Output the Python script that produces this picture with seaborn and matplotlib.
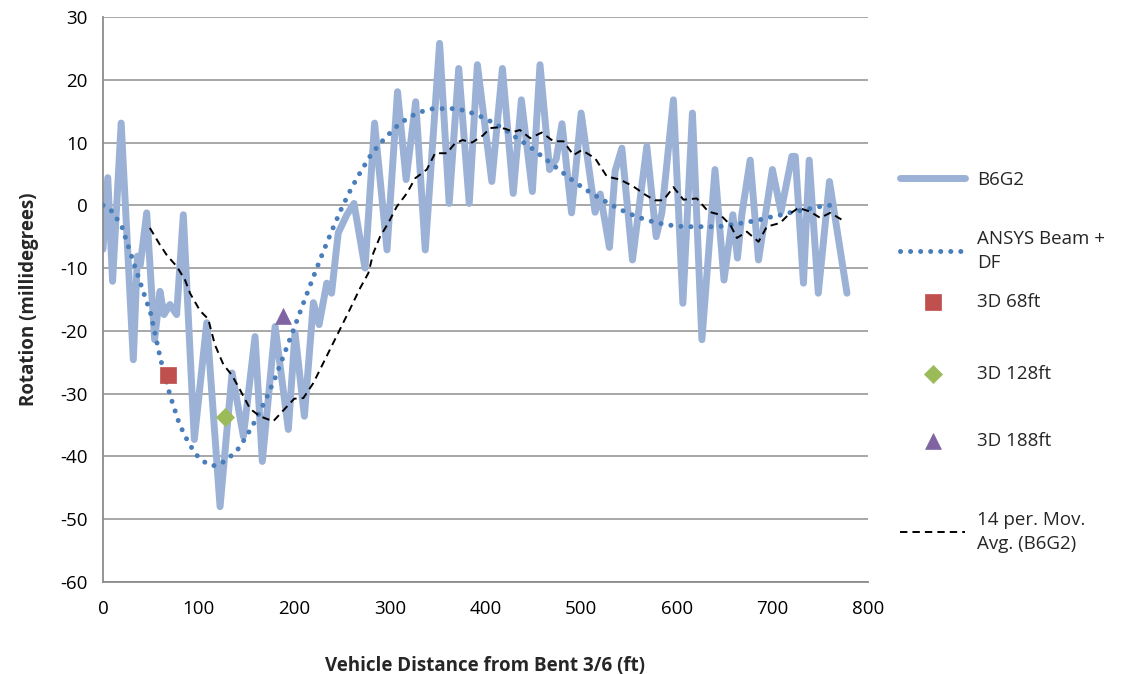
import matplotlib
matplotlib.use("Agg")
import matplotlib.pyplot as plt
import seaborn as sns
import numpy as np
import pandas as pd

# ---------------- data ----------------
b6g2_x = [0, 5, 10, 19, 31.7, 36, 39, 45.7, 54, 59.6, 63.8, 70, 77, 84, 95.5,
          108.5, 122.4, 135, 146.8, 159, 166.6, 180, 193.8, 200.8, 210.6, 220,
          226, 234, 239, 246, 255, 262.5, 274, 284, 297, 308, 317, 327, 337,
          352, 362, 372, 383, 391.5, 406.6, 417.7, 429, 437.5, 449, 457, 467,
          474, 480, 490, 500, 514.6, 520, 529.6, 535.6, 542.6, 553.7, 568.7,
          578.5, 584.4, 596.5, 606.4, 616.4, 626.3, 640, 649.4, 658.7, 663.5,
          668, 676.8, 685.5, 700, 709, 720.4, 724, 732.5, 738.5, 748, 759.7, 778]
b6g2_y = [-7, 4.4, -12.1, 13.1, -24.6, -8.1, -9.5, -1.2, -21.4, -13.7, -17.4,
          -15.8, -17.4, -1.5, -37.3, -18.7, -48, -26.7, -36.8, -20.9, -40.8,
          -19.3, -35.7, -20.3, -33.6, -15.5, -19, -12.4, -14, -4.4, -1.5, 0.3,
          -10, 13.1, -7.1, 18.1, 4.1, 16.5, -7.1, 25.8, 0.3, 21.8, 0.3, 22.4,
          3.8, 21.8, 1.9, 16.8, 2.2, 22.4, 5.7, 7.4, 13, -1.2, 14.7, -1.1, 1.8,
          -6.7, 5.5, 9.1, -8.7, 9.4, -5, -1.2, 16.8, -15.6, 14.7, -21.4, 5.7,
          -11.9, -1.5, -8.4, -1.5, 7.2, -8.7, 5.7, -1, 7.8, 7.8, -12.4, 7.2,
          -14, 3.8, -14]

ansys_x = [0, 10, 20, 30, 40, 50, 60, 70, 80, 90, 100, 110, 118, 128, 140,
           150, 160, 170, 180, 190, 200, 210, 220, 230, 240, 250, 260, 270,
           280, 290, 300, 310, 320, 330, 345, 360, 370, 380, 390, 400, 410,
           420, 430, 440, 450, 460, 470, 480, 490, 500, 510, 520, 530, 540,
           550, 560, 570, 580, 590, 600, 610, 625, 640, 650, 660, 670, 680,
           690, 700, 710, 720, 730, 740, 750, 760]
ansys_y = [0, -1.0, -3.5, -8.2, -12.8, -17.3, -24.4, -30.2, -34.9, -38, -40.2,
           -41.3, -41.5, -40.7, -39.1, -36.8, -34.1, -31, -27.5, -23.5, -19.5,
           -15.4, -11.4, -7.5, -3.8, -0.3, 2.8, 5.5, 8, 9.9, 11.5, 13, 14,
           14.8, 15.4, 15.4, 15.4, 15.0, 14.5, 13.8, 13.0, 12.1, 11.0, 10.0,
           8.9, 7.7, 6.5, 5.3, 4.1, 3.0, 2.0, 1.1, 0.2, -0.6, -1.3, -1.9, -2.4,
           -2.8, -3.1, -3.3, -3.4, -3.4, -3.4, -3.3, -3.0, -2.8, -2.5, -2.2,
           -1.8, -1.5, -1.1, -0.8, -0.5, -0.2, 0.0]

mavg_x = [49, 59.6, 67, 77, 85.8, 91, 101.5, 110, 117, 126, 134.6, 143.3,
          153.8, 164, 178, 189, 200, 209.5, 220, 258.4, 268.8, 277.5, 282.7,
          289.7, 298.4, 307.2, 317.7, 326.4, 338.6, 347.3, 354.3, 359.5, 368.2,
          376, 386, 397, 405, 411.8, 420.5, 429.2, 436, 446.7, 458.9, 471,
          481.5, 492, 500.7, 514.6, 526.9, 540.8, 554.7, 567, 577, 586, 596.5,
          607, 621, 633, 645.4, 656, 662.9, 673.3, 685.5, 694.2, 708.2, 716.8,
          727.3, 739.5, 750, 760.5, 772.7, 776]
mavg_y = [-3.6, -6.3, -8, -9.7, -11.9, -14, -16.8, -18.1, -22.2, -25.4, -27,
          -29.4, -32.4, -33.6, -34.4, -32.6, -30.8, -30.7, -28.3, -16.5, -13.2,
          -10.8, -7.6, -5, -2.8, -0.2, 1.9, 4.3, 5.7, 8.3, 8.3, 8.3, 9.9, 10.4,
          10.0, 11.1, 12.3, 12.4, 12.2, 11.7, 12.0, 10.7, 11.6, 10.2, 10.2, 8,
          8.8, 7.5, 4.6, 4.1, 3, 1.7, 0.8, 0.8, 2.9, 0.9, 1.1, -1, -1.5, -3.1,
          -5.2, -4.2, -5.8, -3.4, -2.8, -1.5, -0.4, -1, -2, -1.2, -2.3, -2.8]

fe3d_x = [68, 128, 188]
fe3d_y = [-27.1, -33.7, -17.7]
fe3d_labels = ["3D 68ft", "3D 128ft", "3D 188ft"]

series_labels = ["B6G2", "ANSYS Beam +\nDF", "14 per. Mov.\nAvg. (B6G2)"]
x_ticks = list(range(0, 801, 100))
y_ticks = list(range(-60, 31, 10))
x_label = "Vehicle Distance from Bent 3/6 (ft)"
y_label = "Rotation (millidegrees)"

# ---------------- style ----------------
sns.set_style("white")
plt.rcParams["font.family"] = ["Open Sans", "DejaVu Sans"]
plt.rcParams["axes.unicode_minus"] = False
FS = 13.5
GRID = "#A0A0A0"

fig = plt.figure(figsize=(11.4, 6.74), dpi=100)
ax = fig.add_axes([103 / 1140, 1 - 582 / 674, (868 - 103) / 1140, (582 - 17) / 674])

sns.lineplot(x=b6g2_x, y=b6g2_y, ax=ax, sort=False, estimator=None,
             color="#9BB2D6", lw=5, solid_joinstyle="round",
             solid_capstyle="round", zorder=2)
l_b6g2 = ax.lines[-1]

sns.lineplot(x=ansys_x, y=ansys_y, ax=ax, sort=False, estimator=None,
             color="#4A7EBB", lw=3.6, zorder=3)
l_ansys = ax.lines[-1]
l_ansys.set_dashes((0.01, 2.0))
l_ansys.set_dash_capstyle("round")

sns.lineplot(x=mavg_x, y=mavg_y, ax=ax, sort=False, estimator=None,
             color="black", lw=1.4, zorder=4)
l_mavg = ax.lines[-1]
l_mavg.set_dashes((3.8, 2.6))

marker_styles = [("s", "#C0504D", 120), ("D", "#9BBB59", 85), ("^", "#8064A2", 130)]
scat_handles = []
for xv, yv, (m, c, s) in zip(fe3d_x, fe3d_y, marker_styles):
    sns.scatterplot(x=[xv], y=[yv], ax=ax, marker=m, s=s, color=c,
                    edgecolor=c, linewidth=0.5, zorder=5)
    scat_handles.append(ax.collections[-1])

ax.set_xlim(0, 800)
ax.set_ylim(-60, 30)
ax.set_xticks(x_ticks)
ax.set_yticks(y_ticks)
ax.yaxis.grid(True, color=GRID, lw=1.3)
ax.xaxis.grid(False)
ax.set_axisbelow(True)
for side in ["top", "right"]:
    ax.spines[side].set_visible(False)
for side in ["left", "bottom"]:
    ax.spines[side].set_color("#8C8C8C")
    ax.spines[side].set_linewidth(1.3)
ax.tick_params(axis="both", which="major", direction="out", length=4,
               width=1.2, color="#8C8C8C", labelsize=FS, labelcolor="black")
ax.tick_params(axis="y", pad=7)
ax.tick_params(axis="x", pad=9)
ax.set_xlabel(x_label, fontsize=FS, fontweight="bold", labelpad=27)
ax.set_ylabel(y_label, fontsize=FS, fontweight="bold", labelpad=15)

# ---------------- legend (one entry per legend box, placed on the right) ----
handles = [l_b6g2, l_ansys, scat_handles[0], scat_handles[1], scat_handles[2], l_mavg]
labels = [series_labels[0], series_labels[1]] + fe3d_labels + [series_labels[2]]
centers_px = [180, 251, 302, 374, 441, 532]
for h, lab, cy in zip(handles, labels, centers_px):
    leg = fig.legend(handles=[h], labels=[lab], loc="center left",
                     bbox_to_anchor=(900 / 1140, 1 - cy / 674),
                     frameon=False, fontsize=FS, handlelength=3.47,
                     handletextpad=0.64, borderpad=0, borderaxespad=0,
                     scatterpoints=1)
    for t in leg.get_texts():
        t.set_linespacing(1.45)

fig.savefig("out.png", dpi=100)
